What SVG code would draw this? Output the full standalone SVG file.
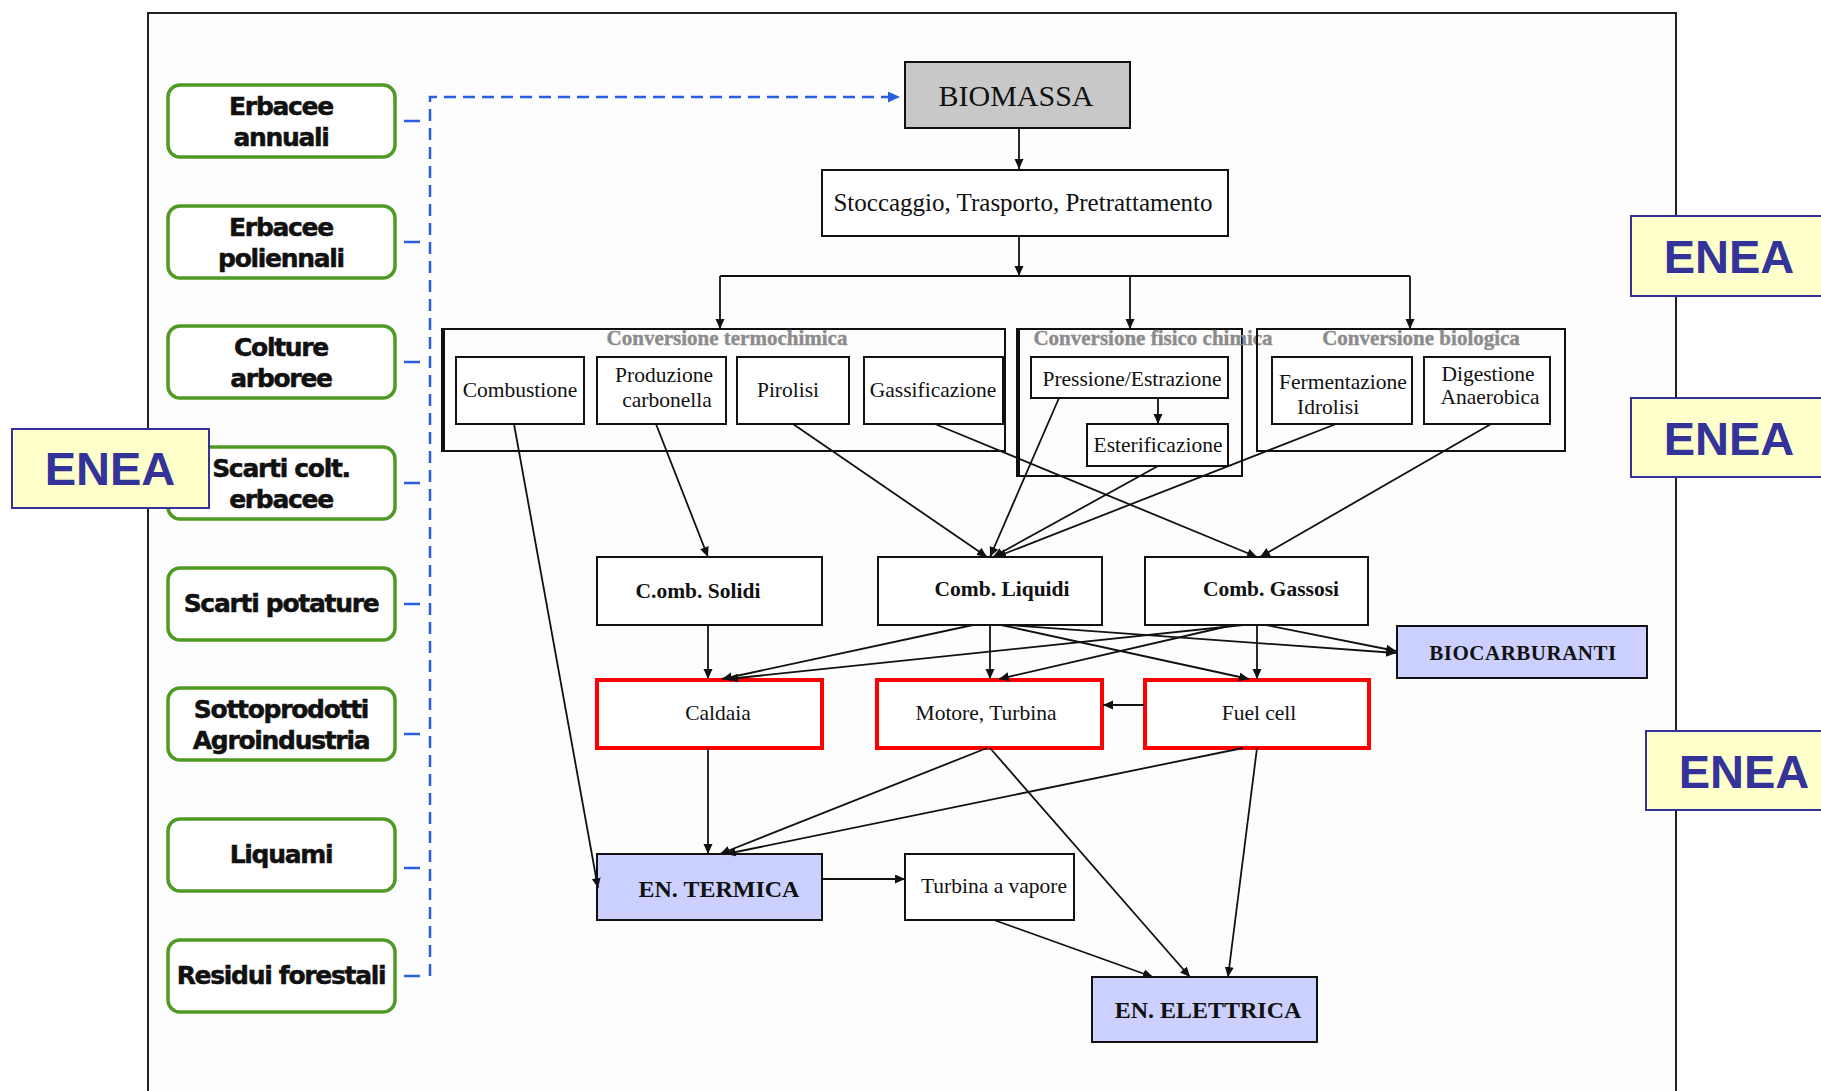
<svg xmlns="http://www.w3.org/2000/svg" width="1821" height="1091" viewBox="0 0 1821 1091">
<style>
.src rect{fill:#fff;stroke:#4f9a24;stroke-width:3.5}
.src text{font-family:"DejaVu Sans",sans-serif;font-weight:bold;font-size:25px;letter-spacing:-1.3px;fill:#111;stroke:#111;stroke-width:0.5;text-anchor:middle}
.box rect{fill:#fff;stroke:#111;stroke-width:2}
.box text,.grp text{font-family:"Liberation Serif",serif;font-size:21.5px;fill:#111;text-anchor:middle}
.b text{font-weight:bold}
.red rect{stroke:#ff0000;stroke-width:4}
.lav rect{fill:#ccd0ff}
.grp rect{fill:none;stroke:#111;stroke-width:2}
.grp text.t{font-weight:bold;font-size:21px;fill:#8c8c8c;stroke:#8c8c8c;stroke-width:0.4}
.enea rect{fill:#ffffcc;stroke:#333399;stroke-width:2}
.enea text{font-family:"Liberation Sans",Arial,sans-serif;font-weight:bold;font-size:47px;fill:#333399;text-anchor:middle}
#connectors line,#connectors path{stroke:#111;stroke-width:1.8;fill:none;marker-end:url(#ah)}
#blue line,#blue path{stroke:#2a5fe0;fill:none}
</style>
<defs>
<marker id="ah" markerUnits="userSpaceOnUse" markerWidth="12" markerHeight="10" refX="10" refY="4.5" orient="auto"><path d="M0,0 L10,4.5 L0,9 z" fill="#111"/></marker>
<marker id="bah" markerUnits="userSpaceOnUse" markerWidth="14" markerHeight="12" refX="12" refY="5.5" orient="auto"><path d="M0,0 L12,5.5 L0,11 z" fill="#2a5fe0"/></marker>
</defs>
<rect x="0" y="0" width="1821" height="1091" fill="#fff"/>
<rect id="frame" x="148" y="13" width="1528" height="1100" fill="#fdfdfd" stroke="#222" stroke-width="2"/>

<g id="blue">
<path d="M430,976 V97 H900" stroke-width="2.5" stroke-dasharray="12,7" marker-end="url(#bah)"/>
<line x1="404" y1="121" x2="420" y2="121" stroke-width="2.5"/>
<line x1="404" y1="242" x2="420" y2="242" stroke-width="2.5"/>
<line x1="404" y1="362" x2="420" y2="362" stroke-width="2.5"/>
<line x1="404" y1="483" x2="420" y2="483" stroke-width="2.5"/>
<line x1="404" y1="604" x2="420" y2="604" stroke-width="2.5"/>
<line x1="404" y1="734" x2="420" y2="734" stroke-width="2.5"/>
<line x1="404" y1="868" x2="420" y2="868" stroke-width="2.5"/>
<line x1="404" y1="976" x2="420" y2="976" stroke-width="2.5"/>
</g>

<g id="src-erbacee-annuali" class="src"><rect x="168" y="85" width="227" height="72" rx="12"/><text x="281" y="115">Erbacee</text><text x="281" y="146">annuali</text></g>
<g id="src-erbacee-poliennali" class="src"><rect x="168" y="206" width="227" height="72" rx="12"/><text x="281" y="236">Erbacee</text><text x="281" y="267">poliennali</text></g>
<g id="src-colture-arboree" class="src"><rect x="168" y="326" width="227" height="72" rx="12"/><text x="281" y="356">Colture</text><text x="281" y="387">arboree</text></g>
<g id="src-scarti-colt" class="src"><rect x="168" y="447" width="227" height="72" rx="12"/><text x="281" y="477">Scarti colt.</text><text x="281" y="508">erbacee</text></g>
<g id="src-scarti-potature" class="src"><rect x="168" y="568" width="227" height="72" rx="12"/><text x="281" y="612">Scarti potature</text></g>
<g id="src-sottoprodotti" class="src"><rect x="168" y="688" width="227" height="72" rx="12"/><text x="281" y="718">Sottoprodotti</text><text x="281" y="749">Agroindustria</text></g>
<g id="src-liquami" class="src"><rect x="168" y="819" width="227" height="72" rx="12"/><text x="281" y="863">Liquami</text></g>
<g id="src-residui" class="src"><rect x="168" y="940" width="227" height="72" rx="12"/><text x="281" y="984">Residui forestali</text></g>

<g id="biomassa" class="box"><rect x="905" y="62" width="225" height="66" style="fill:#c8c8c8"/><text x="1016" y="106" style="font-size:30px">BIOMASSA</text></g>
<g id="stoccaggio" class="box"><rect x="822" y="170" width="406" height="66"/><text x="1023" y="211" style="font-size:25px">Stoccaggio, Trasporto, Pretrattamento</text></g>

<g id="grp-termochimica" class="grp"><rect x="442" y="329" width="563" height="122"/><line x1="443" y1="329" x2="443" y2="451" stroke="#111" stroke-width="4"/><text class="t" x="727" y="345">Conversione termochimica</text></g>
<g id="grp-fisico" class="grp"><rect x="1017" y="329" width="225" height="147"/><line x1="1018" y1="329" x2="1018" y2="476" stroke="#111" stroke-width="4"/><text class="t" x="1153" y="345">Conversione fisico chimica</text></g>
<g id="grp-biologica" class="grp"><rect x="1257" y="329" width="308" height="122"/><text class="t" x="1421" y="345">Conversione biologica</text></g>

<g id="combustione" class="box"><rect x="456" y="357" width="128" height="67"/><text x="520" y="397">Combustione</text></g>
<g id="carbonella" class="box"><rect x="597" y="357" width="129" height="67"/><text x="664" y="382">Produzione</text><text x="667" y="407">carbonella</text></g>
<g id="pirolisi" class="box"><rect x="737" y="357" width="112" height="67"/><text x="788" y="397">Pirolisi</text></g>
<g id="gassificazione" class="box"><rect x="864" y="357" width="139" height="67"/><text x="933" y="397">Gassificazione</text></g>
<g id="pressione" class="box"><rect x="1031" y="357" width="197" height="41"/><text x="1132" y="386">Pressione/Estrazione</text></g>
<g id="esterificazione" class="box"><rect x="1087" y="424" width="141" height="42"/><text x="1158" y="452">Esterificazione</text></g>
<g id="fermentazione" class="box"><rect x="1272" y="357" width="140" height="67"/><text x="1343" y="389">Fermentazione</text><text x="1297" y="414" style="text-anchor:start">Idrolisi</text></g>
<g id="digestione" class="box"><rect x="1424" y="357" width="126" height="67"/><text x="1488" y="381">Digestione</text><text x="1490" y="404">Anaerobica</text></g>

<g id="comb-solidi" class="box b"><rect x="597" y="557" width="225" height="68"/><text x="698" y="598">C.omb. Solidi</text></g>
<g id="comb-liquidi" class="box b"><rect x="878" y="557" width="224" height="68"/><text x="1002" y="596">Comb. Liquidi</text></g>
<g id="comb-gassosi" class="box b"><rect x="1145" y="557" width="223" height="68"/><text x="1271" y="596">Comb. Gassosi</text></g>

<g id="biocarburanti" class="box b lav"><rect x="1397" y="626" width="250" height="52"/><text x="1523" y="660" style="font-size:21px;letter-spacing:0.5px">BIOCARBURANTI</text></g>

<g id="caldaia" class="box red"><rect x="597" y="680" width="225" height="68"/><text x="718" y="720">Caldaia</text></g>
<g id="motore" class="box red"><rect x="877" y="680" width="225" height="68"/><text x="986" y="720">Motore, Turbina</text></g>
<g id="fuelcell" class="box red"><rect x="1145" y="680" width="224" height="68"/><text x="1259" y="720">Fuel cell</text></g>

<g id="en-termica" class="box b lav"><rect x="597" y="854" width="225" height="66"/><text x="719" y="897" style="font-size:24px">EN. TERMICA</text></g>
<g id="turbina-vapore" class="box"><rect x="905" y="854" width="169" height="66"/><text x="994" y="893">Turbina a vapore</text></g>
<g id="en-elettrica" class="box b lav"><rect x="1092" y="977" width="225" height="65"/><text x="1208" y="1018" style="font-size:24px">EN. ELETTRICA</text></g>

<g id="connectors">
<line x1="1019" y1="129" x2="1019" y2="169"/>
<line x1="1019" y1="236" x2="1019" y2="276"/>
<path d="M720,276 H1410" style="marker-end:none"/>
<line x1="720" y1="276" x2="720" y2="329"/>
<line x1="1130" y1="276" x2="1130" y2="329"/>
<line x1="1410" y1="276" x2="1410" y2="329"/>
<line x1="1158" y1="398" x2="1158" y2="424"/>
<line x1="514" y1="424" x2="598" y2="888"/>
<line x1="656" y1="424" x2="708" y2="557"/>
<line x1="793" y1="424" x2="987" y2="557"/>
<line x1="935" y1="424" x2="1257" y2="557"/>
<line x1="1059" y1="398" x2="990" y2="557"/>
<line x1="1158" y1="466" x2="993" y2="557"/>
<line x1="1336" y1="424" x2="996" y2="557"/>
<line x1="1491" y1="424" x2="1260" y2="557"/>
<line x1="708" y1="625" x2="708" y2="679"/>
<line x1="973" y1="625" x2="722" y2="679"/>
<line x1="1243" y1="625" x2="728" y2="679"/>
<line x1="990" y1="625" x2="990" y2="679"/>
<line x1="1233" y1="625" x2="999" y2="679"/>
<line x1="1001" y1="625" x2="1249" y2="679"/>
<line x1="1257" y1="625" x2="1257" y2="679"/>
<line x1="1008" y1="625" x2="1396" y2="653"/>
<line x1="1266" y1="625" x2="1396" y2="651"/>
<line x1="1144" y1="705" x2="1103" y2="705"/>
<line x1="708" y1="748" x2="708" y2="854"/>
<line x1="987" y1="748" x2="720" y2="854"/>
<line x1="1243" y1="748" x2="726" y2="854"/>
<line x1="990" y1="748" x2="1190" y2="977"/>
<line x1="1257" y1="748" x2="1228" y2="977"/>
<line x1="822" y1="879" x2="905" y2="879"/>
<line x1="994" y1="920" x2="1153" y2="977"/>
</g>

<g id="enea-left" class="enea"><rect x="12" y="429" width="197" height="79"/><text x="110" y="485">ENEA</text></g>
<g id="enea-right-1" class="enea"><rect x="1631" y="216" width="200" height="80"/><text x="1729" y="273">ENEA</text></g>
<g id="enea-right-2" class="enea"><rect x="1631" y="398" width="200" height="79"/><text x="1729" y="455">ENEA</text></g>
<g id="enea-right-3" class="enea"><rect x="1646" y="731" width="190" height="79"/><text x="1744" y="788">ENEA</text></g>
</svg>
